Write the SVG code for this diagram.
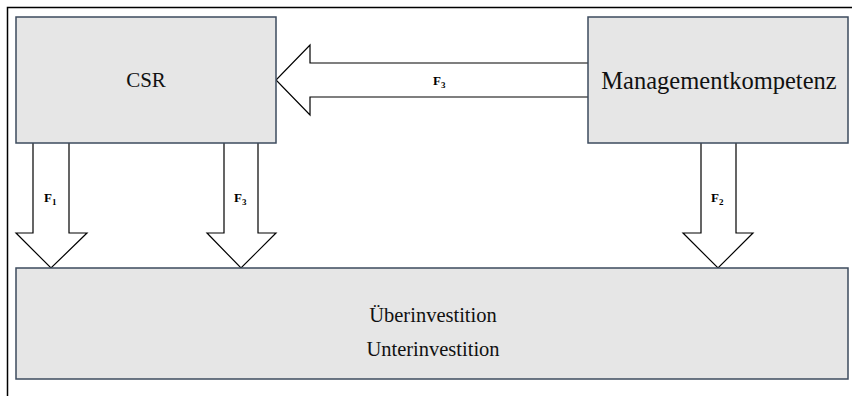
<svg xmlns="http://www.w3.org/2000/svg" width="852" height="396" viewBox="0 0 852 396">
<style>
.box{fill:#e6e6e6;stroke:#3d4b5e;stroke-width:1.5}
.arr{fill:#ffffff;stroke:#000;stroke-width:1.2;stroke-linejoin:miter}
.t{font-family:"Liberation Serif","Times New Roman",serif;fill:#111}
.lab{font-family:"Liberation Serif","Times New Roman",serif;font-weight:bold;font-size:13px;fill:#000}
.sub{font-size:9px}
</style>
<rect x="0" y="0" width="852" height="396" fill="#fff"/>
<path d="M7.5 396 V7.5 H852" fill="none" stroke="#000" stroke-width="1.5"/>
<g id="connectors">
<path class="arr" d="M588 63 H310 V45 L276 80 L310 115 V97 H588"/>
<path class="arr" d="M33 143 V233 H16 L51 268 L87 233 H69 V143"/>
<path class="arr" d="M224 143 V233 H207 L241 268 L276 233 H258 V143"/>
<path class="arr" d="M701 143 V233 H683 L718 268 L753 233 H736 V143"/>
<text class="lab" x="433" y="85">F<tspan class="sub" dy="3">3</tspan></text>
<text class="lab" x="44" y="202">F<tspan class="sub" dy="3">1</tspan></text>
<text class="lab" x="234" y="202">F<tspan class="sub" dy="3">3</tspan></text>
<text class="lab" x="711" y="202">F<tspan class="sub" dy="3">2</tspan></text>
</g>
<g id="csr">
<rect class="box" x="16" y="17" width="260" height="126"/>
<text class="t" x="146" y="87" font-size="21" text-anchor="middle">CSR</text>
</g>
<g id="management">
<rect class="box" x="588" y="17" width="260" height="126"/>
<text class="t" x="719" y="89" font-size="24.5" text-anchor="middle">Managementkompetenz</text>
</g>
<g id="investition">
<rect class="box" x="16" y="268" width="832" height="111"/>
<text class="t" x="433" y="322" font-size="20.5" text-anchor="middle">Überinvestition</text>
<text class="t" x="433" y="356" font-size="20.5" text-anchor="middle">Unterinvestition</text>
</g>
</svg>
